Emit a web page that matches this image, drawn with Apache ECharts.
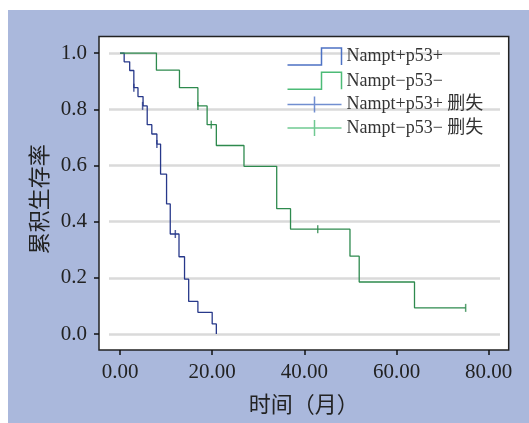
<!DOCTYPE html>
<html>
<head>
<meta charset="utf-8">
<script src="https://cdn.jsdelivr.net/npm/echarts@6/dist/echarts.min.js"></script>
<style>
  html, body { margin: 0; padding: 0; background: #fff; }
  .panel { position: absolute; left: 8px; top: 10px; width: 521px; height: 413px; background: #aab8dc; }
  #chart { position: absolute; left: 0; top: 0; width: 529px; height: 423px; }
</style>
</head>
<body>
<div class="panel"></div>
<div id="chart"></div>
<script>
// KM 曲线数据 [月, 累积生存率]
const posSurv = [[0, 1], [0.9, 0.969], [2.1, 0.938], [3.0, 0.877], [3.9, 0.845], [5.0, 0.812],
  [5.9, 0.745], [6.9, 0.712], [8.0, 0.676], [8.8, 0.569], [10.1, 0.463], [10.9, 0.356],
  [12.8, 0.275], [14.0, 0.195], [14.9, 0.116], [16.9, 0.077], [20.0, 0.036], [20.9, 0]];
const negSurv = [[0, 1], [7.9, 0.939], [12.9, 0.877], [16.9, 0.812], [18.9, 0.745], [20.9, 0.671],
  [26.9, 0.597], [34.0, 0.446], [37.0, 0.373], [49.9, 0.277], [51.9, 0.185], [63.9, 0.093], [75.0, 0.093]];
// 删失点
const posCensor = [[3.0, 0.877], [4.9, 0.812], [8.0, 0.676], [12.0, 0.356]];
const negCensor = [[16.9, 0.812], [19.8, 0.745], [42.9, 0.373], [75.0, 0.093]];

const xTicks = [0, 20, 40, 60, 80];
const yTicks = [0, 0.2, 0.4, 0.6, 0.8, 1.0];
const names = ['Nampt+p53+', 'Nampt\u2212p53\u2212', 'Nampt+p53+ 删失', 'Nampt\u2212p53\u2212 删失'];

const blue = '#27388a', green = '#2e8a4e';
const blueLeg = '#4d72c4', greenLeg = '#4cbb77';
const serif = '"Liberation Serif", "Noto Sans CJK SC", serif';

const stepIcon = 'path://M0,17 L34,17 L34,0 L54,0 L54,17';
const tickIcon = 'path://M0,8 L54,8 M27,0 L27,16';

const chart = echarts.init(document.getElementById('chart'));
chart.setOption({
  animation: false,
  grid: {
    left: 99, top: 36.5, right: 20.3, bottom: 73,
    show: true, backgroundColor: '#fff', borderColor: '#222', borderWidth: 1.5
  },
  legend: {
    orient: 'vertical', left: 280, top: 40.5,
    itemWidth: 54, itemHeight: 17, itemGap: 2.3,
    textStyle: { fontFamily: serif, fontSize: 18, color: '#333' },
    data: [
      { name: names[0], icon: stepIcon, itemStyle: { color: 'none', borderColor: blueLeg, borderWidth: 1.5 } },
      { name: names[1], icon: stepIcon, itemStyle: { color: 'none', borderColor: greenLeg, borderWidth: 1.5 } },
      { name: names[2], icon: tickIcon, itemStyle: { color: 'none', borderColor: blueLeg, borderWidth: 1.5 } },
      { name: names[3], icon: tickIcon, itemStyle: { color: 'none', borderColor: greenLeg, borderWidth: 1.5 } }
    ]
  },
  xAxis: {
    type: 'value', min: -4.56, max: 84.34,
    name: '时间（月）', nameLocation: 'middle', nameGap: 43,
    nameTextStyle: { fontFamily: '"Noto Sans CJK SC"', fontSize: 22, color: '#222' },
    axisLine: { show: false, onZero: false },
    axisTick: { show: true, customValues: xTicks, length: 5, lineStyle: { color: '#111', width: 1.5 } },
    axisLabel: {
      customValues: xTicks, margin: 12, fontFamily: serif, fontSize: 21, color: '#222',
      formatter: v => v.toFixed(2)
    },
    splitLine: { show: false }
  },
  yAxis: {
    type: 'value', min: -0.057, max: 1.059,
    name: '累积生存率', nameLocation: 'middle', nameGap: 48,
    nameTextStyle: { fontFamily: '"Noto Sans CJK SC"', fontSize: 22, color: '#222', padding: [0, 12, 0, 0] },
    axisLine: { show: false, onZero: false },
    axisTick: { show: true, customValues: yTicks, length: 5, lineStyle: { color: '#111', width: 1.5 } },
    axisLabel: {
      customValues: yTicks, margin: 12, fontFamily: serif, fontSize: 21, color: '#222',
      formatter: v => v.toFixed(1)
    },
    splitLine: { show: false }
  },
  series: [
    {
      name: names[0], type: 'line', step: 'end', data: posSurv, showSymbol: false,
      lineStyle: { color: blue, width: 1.3 }, itemStyle: { color: blue }, z: 3
    },
    {
      name: names[1], type: 'line', step: 'end', data: negSurv, showSymbol: false,
      lineStyle: { color: green, width: 1.3 }, itemStyle: { color: green }, z: 3,
      markLine: {
        silent: true, symbol: ['none', 'none'], z: 1, label: { show: false },
        lineStyle: { color: '#dadada', width: 2.5, type: 'solid' },
        data: yTicks.map(v => [{ coord: [-2.39, v] }, { coord: [82.45, v] }])
      }
    },
    {
      name: names[2], type: 'scatter', data: posCensor, symbol: 'rect', symbolSize: [1.5, 8],
      itemStyle: { color: blue }, z: 4
    },
    {
      name: names[3], type: 'scatter', data: negCensor, symbol: 'rect', symbolSize: [1.5, 8],
      itemStyle: { color: green }, z: 4
    }
  ]
});
</script>
</body>
</html>
